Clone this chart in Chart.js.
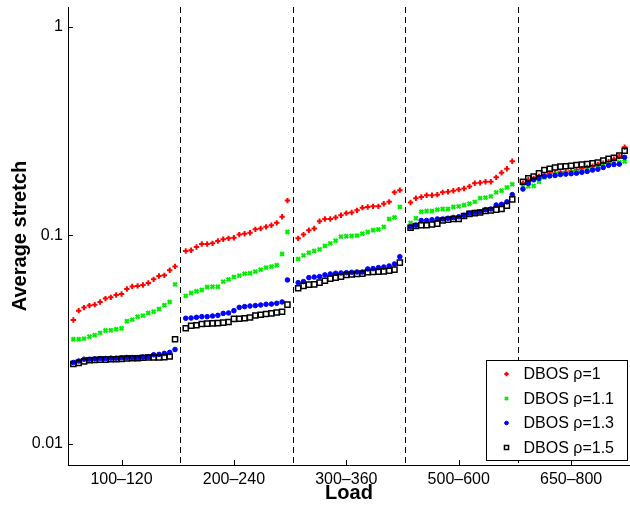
<!DOCTYPE html>
<html>
<head>
<meta charset="utf-8">
<script src="https://cdn.jsdelivr.net/npm/chart.js@4"></script>
<style>
  body { margin: 0; background: #fff; }
  canvas { display: block; }
</style>
</head>
<body>
<canvas id="graphe" width="630" height="505"></canvas>
<script>
// categories (groupes de charge) and series, 20 sorted runs per group
var loads = ["100\u2013120", "200\u2013240", "300\u2013360", "500\u2013600", "650\u2013800"];
var yTicks = [0.01, 0.1, 1];

var rho1 = [
    0.0393, 0.0436, 0.0451, 0.0461, 0.0466, 0.0480, 0.0498, 0.0505, 0.0518, 0.0524, 0.0554, 0.0570, 0.0573, 0.0579, 0.0592, 0.0616, 0.0639, 0.0644, 0.0681, 0.0711,
    0.0843, 0.0849, 0.0881, 0.0911, 0.0911, 0.0917, 0.0941, 0.0959, 0.0969, 0.0976, 0.101, 0.102, 0.103, 0.107, 0.108, 0.110, 0.112, 0.115, 0.123, 0.147,
    0.0969, 0.101, 0.106, 0.108, 0.117, 0.120, 0.120, 0.122, 0.125, 0.128, 0.129, 0.132, 0.136, 0.137, 0.138, 0.138, 0.142, 0.145, 0.161, 0.165,
    0.144, 0.151, 0.153, 0.156, 0.156, 0.157, 0.161, 0.162, 0.164, 0.166, 0.168, 0.172, 0.178, 0.179, 0.181, 0.181, 0.190, 0.200, 0.209, 0.227,
    0.178, 0.185, 0.188, 0.192, 0.195, 0.199, 0.200, 0.201, 0.202, 0.204, 0.206, 0.209, 0.212, 0.215, 0.219, 0.222, 0.226, 0.232, 0.239, 0.265
];
var rho11 = [
    0.0318, 0.0318, 0.0320, 0.0327, 0.0333, 0.0341, 0.0350, 0.0351, 0.0355, 0.0359, 0.0388, 0.0395, 0.0408, 0.0413, 0.0425, 0.0431, 0.0444, 0.0463, 0.0480, 0.0583,
    0.0513, 0.0530, 0.0540, 0.0548, 0.0566, 0.0568, 0.0568, 0.0601, 0.0616, 0.0632, 0.0642, 0.0656, 0.0659, 0.0671, 0.0686, 0.0701, 0.0709, 0.0720, 0.0815, 0.104,
    0.0771, 0.0803, 0.0827, 0.0843, 0.0858, 0.0891, 0.0917, 0.0945, 0.0987, 0.0991, 0.0995, 0.0998, 0.102, 0.104, 0.106, 0.107, 0.110, 0.120, 0.122, 0.137,
    0.115, 0.121, 0.130, 0.131, 0.131, 0.133, 0.134, 0.134, 0.137, 0.138, 0.140, 0.142, 0.145, 0.151, 0.152, 0.154, 0.161, 0.164, 0.170, 0.176,
    0.171, 0.172, 0.173, 0.181, 0.190, 0.194, 0.196, 0.197, 0.199, 0.200, 0.202, 0.203, 0.205, 0.208, 0.211, 0.215, 0.220, 0.223, 0.224, 0.226
];
var rho13 = [
    0.0246, 0.0250, 0.0255, 0.0255, 0.0256, 0.0257, 0.0257, 0.0258, 0.0258, 0.0259, 0.0260, 0.0260, 0.0260, 0.0261, 0.0262, 0.0268, 0.0269, 0.0272, 0.0275, 0.0284,
    0.0401, 0.0402, 0.0405, 0.0408, 0.0408, 0.0411, 0.0414, 0.0423, 0.0425, 0.0436, 0.0452, 0.0456, 0.0459, 0.0461, 0.0464, 0.0468, 0.0469, 0.0473, 0.0480, 0.0612,
    0.0594, 0.0601, 0.0628, 0.0632, 0.0635, 0.0647, 0.0654, 0.0659, 0.0661, 0.0663, 0.0666, 0.0668, 0.0668, 0.0691, 0.0694, 0.0701, 0.0706, 0.0714, 0.0730, 0.0791,
    0.110, 0.112, 0.118, 0.118, 0.119, 0.120, 0.120, 0.121, 0.122, 0.123, 0.125, 0.128, 0.129, 0.130, 0.133, 0.134, 0.140, 0.141, 0.145, 0.157,
    0.167, 0.178, 0.185, 0.188, 0.192, 0.193, 0.194, 0.196, 0.197, 0.198, 0.199, 0.201, 0.203, 0.206, 0.208, 0.212, 0.217, 0.219, 0.220, 0.237
];
var rho15 = [
    0.0242, 0.0245, 0.0249, 0.0252, 0.0253, 0.0254, 0.0254, 0.0255, 0.0255, 0.0256, 0.0257, 0.0258, 0.0258, 0.0259, 0.0260, 0.0260, 0.0260, 0.0261, 0.0263, 0.0318,
    0.0359, 0.0369, 0.0371, 0.0376, 0.0378, 0.0379, 0.0380, 0.0382, 0.0385, 0.0398, 0.0399, 0.0401, 0.0404, 0.0413, 0.0417, 0.0420, 0.0423, 0.0427, 0.0431, 0.0466,
    0.0558, 0.0573, 0.0581, 0.0583, 0.0594, 0.0607, 0.0621, 0.0628, 0.0635, 0.0647, 0.0651, 0.0654, 0.0656, 0.0666, 0.0668, 0.0671, 0.0673, 0.0678, 0.0686, 0.0741,
    0.109, 0.111, 0.112, 0.112, 0.113, 0.114, 0.118, 0.119, 0.120, 0.120, 0.124, 0.127, 0.128, 0.129, 0.131, 0.132, 0.133, 0.134, 0.139, 0.149,
    0.181, 0.188, 0.192, 0.199, 0.206, 0.209, 0.212, 0.214, 0.215, 0.216, 0.218, 0.219, 0.220, 0.222, 0.224, 0.229, 0.233, 0.236, 0.242, 0.255
];

var parGroupe = 20;   // runs per load group
var largeur = 21;     // x units per group (20 runs + separator)
var police = '"Liberation Sans", Arial, Helvetica, sans-serif';

// index -> x position inside its group
function points(serie) {
    var res = [];
    for (var i = 0; i < serie.length; i++) {
        var g = Math.floor(i / parGroupe);
        res.push({ x: g * largeur + (i % parGroupe) + 1, y: serie[i] });
    }
    return res;
}

var separations = [];
var centres = [];
for (var g = 0; g < loads.length; g++) {
    centres.push(g * largeur + 10);
    if (g > 0) separations.push(g * largeur);
}

// no label overhang padding, the plot box is fixed
function sansMarge(s) {
    s.paddingTop = 0;
    s.paddingBottom = 0;
    s.paddingLeft = 0;
    s.paddingRight = 0;
}

// dashed separators, inward ticks, legend box
var decor = {
    id: "decor",
    beforeDatasetsDraw: function (chart) {
        var ctx = chart.ctx;
        var ca = chart.chartArea;
        var sx = chart.scales.x, sy = chart.scales.y;
        ctx.save();
        ctx.strokeStyle = "#000";
        ctx.lineWidth = 1;
        ctx.setLineDash([6, 4]);
        separations.forEach(function (v) {
            var px = Math.round(sx.getPixelForValue(v)) + 0.5;
            ctx.beginPath();
            ctx.moveTo(px, ca.top);
            ctx.lineTo(px, ca.bottom);
            ctx.stroke();
        });
        ctx.setLineDash([]);
        centres.forEach(function (v) {
            var px = Math.round(sx.getPixelForValue(v)) + 0.5;
            ctx.beginPath();
            ctx.moveTo(px, ca.bottom);
            ctx.lineTo(px, ca.bottom - 5);
            ctx.stroke();
        });
        yTicks.forEach(function (v) {
            var py = Math.round(sy.getPixelForValue(v)) + 0.5;
            ctx.beginPath();
            ctx.moveTo(ca.left, py);
            ctx.lineTo(ca.left + 5, py);
            ctx.stroke();
        });
        ctx.restore();
    },
    afterDraw: function (chart) {
        var ctx = chart.ctx;
        var ca = chart.chartArea;
        var w = 141, h = 100;
        var x0 = Math.round(ca.right - w - 3) + 0.5, y0 = Math.round(ca.bottom - h - 5) + 0.5;
        ctx.save();
        ctx.fillStyle = "#fff";
        ctx.fillRect(x0, y0, w, h);
        ctx.strokeStyle = "#000";
        ctx.lineWidth = 1;
        ctx.strokeRect(x0, y0, w, h);
        ctx.font = "16px " + police;
        ctx.textBaseline = "middle";
        chart.data.datasets.forEach(function (ds, i) {
            var cy = y0 + 13.5 + i * 24.5;
            ctx.strokeStyle = ds.borderColor;
            ctx.fillStyle = ds.backgroundColor;
            ctx.lineWidth = ds.borderWidth;
            Chart.helpers.drawPoint(ctx, {
                pointStyle: ds.pointStyle, radius: ds.pointRadius * 0.8,
                borderWidth: ds.borderWidth, rotation: 0
            }, x0 + 20, cy);
            ctx.fillStyle = "#000";
            ctx.fillText(ds.label, x0 + 37, cy + 1);
        });
        ctx.restore();
    }
};

new Chart(document.getElementById("graphe"), {
    type: "scatter",
    data: {
        datasets: [
            { label: "DBOS \u03c1=1", data: points(rho1), pointStyle: "cross", pointRadius: 2.7,
              borderColor: "#ff0000", backgroundColor: "#ff0000", borderWidth: 2, order: 3 },
            { label: "DBOS \u03c1=1.1", data: points(rho11), pointStyle: "crossRot", pointRadius: 2.7,
              borderColor: "#00ee00", backgroundColor: "#00ee00", borderWidth: 2.2, order: 2 },
            { label: "DBOS \u03c1=1.3", data: points(rho13), pointStyle: "circle", pointRadius: 2.3,
              borderColor: "#0000ff", backgroundColor: "#0000ff", borderWidth: 1, order: 1 },
            { label: "DBOS \u03c1=1.5", data: points(rho15), pointStyle: "rect", pointRadius: 3.6,
              borderColor: "#000000", backgroundColor: "rgba(0,0,0,0)", borderWidth: 1.5, order: 0 }
        ]
    },
    options: {
        responsive: false,
        animation: false,
        layout: { autoPadding: false, padding: { top: 7, right: 0, left: 0, bottom: 0 } },
        plugins: { legend: { display: false }, tooltip: { enabled: false } },
        scales: {
            x: {
                type: "linear", min: 0, max: loads.length * largeur,
                grid: { display: false, drawTicks: false },
                border: { color: "#000", width: 1 },
                afterBuildTicks: function (s) {
                    s.ticks = centres.map(function (v) { return { value: v }; });
                },
                ticks: {
                    callback: function (v, i) { return loads[i]; },
                    font: { size: 16, family: police }, color: "#000",
                    maxRotation: 0, autoSkip: false, padding: 5
                },
                title: { display: true, text: "Load", color: "#000", padding: 0,
                         font: { size: 20, weight: "bold", family: police } },
                afterFit: function (s) { s.height = 40; sansMarge(s); }
            },
            y: {
                type: "logarithmic", min: 0.00793, max: 1.247,
                grid: { display: false, drawTicks: false },
                border: { color: "#000", width: 1 },
                afterBuildTicks: function (s) {
                    s.ticks = yTicks.map(function (v) { return { value: v }; });
                },
                ticks: {
                    callback: function (v) { return String(v); },
                    font: { size: 16, family: police }, color: "#000", padding: 5
                },
                title: { display: true, text: "Average stretch", color: "#000", padding: { top: 8, bottom: 0 },
                         font: { size: 20, weight: "bold", family: police } },
                afterFit: function (s) { s.width = 68; sansMarge(s); }
            }
        }
    },
    plugins: [decor]
});
</script>
</body>
</html>
